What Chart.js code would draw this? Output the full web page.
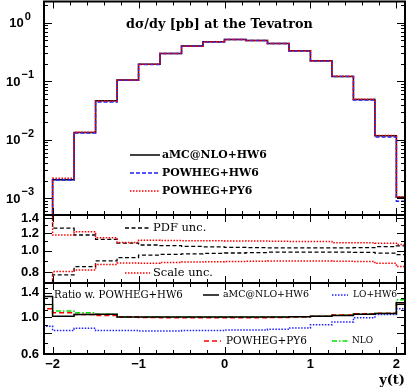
<!DOCTYPE html>
<html>
<head>
<meta charset="utf-8">
<script src="https://cdn.jsdelivr.net/npm/chart.js@4/dist/chart.umd.min.js"></script>
<style>
  html, body { margin: 0; padding: 0; background: #fff; }
  #wrap { position: relative; width: 407px; height: 389px; }
  #wrap canvas { position: absolute; left: 0; top: 0; }
</style>
</head>
<body>
<div id="wrap">
  <canvas id="topChart" width="407" height="389"></canvas>
  <canvas id="midChart" width="407" height="389"></canvas>
  <canvas id="botChart" width="407" height="389"></canvas>
</div>
<script>
// bin edges in y(t), one more edge than values
const binEdges = [-2.25, -2, -1.75, -1.5, -1.25, -1, -0.75, -0.5, -0.25, 0, 0.25, 0.5, 0.75, 1, 1.25, 1.5, 1.75, 2, 2.25];

// dsigma/dy [pb]
const xsecAmcHw6    = [0.0003, 0.00207, 0.0133, 0.0466, 0.105, 0.196, 0.299, 0.398, 0.471, 0.517, 0.497, 0.442, 0.331, 0.223, 0.121, 0.049, 0.0117, 0.00104];
const xsecPowhegHw6 = [0.00025, 0.00205, 0.0131, 0.0442, 0.104, 0.194, 0.297, 0.396, 0.47, 0.516, 0.496, 0.441, 0.330, 0.222, 0.120, 0.0478, 0.0112, 0.00089];
const xsecPowhegPy6 = [0.0003, 0.0022, 0.0135, 0.0462, 0.105, 0.196, 0.298, 0.397, 0.471, 0.516, 0.496, 0.442, 0.331, 0.224, 0.122, 0.0495, 0.0118, 0.00107];

// uncertainty bands (middle panel)
const pdfUp     = [1.6, 1.26, 1.175, 1.124, 1.08, 1.06, 1.053, 1.045, 1.04, 1.035, 1.032, 1.03, 1.03, 1.03, 1.03, 1.032, 1.042, 1.05];
const pdfDown   = [0.6, 0.779, 0.848, 0.9, 0.93, 0.955, 0.963, 0.968, 0.972, 0.976, 0.98, 0.984, 0.984, 0.984, 0.984, 0.982, 0.974, 0.96];
const scaleUp   = [1.6, 1.175, 1.216, 1.143, 1.087, 1.112, 1.11, 1.108, 1.106, 1.105, 1.104, 1.102, 1.1, 1.1, 1.085, 1.085, 1.08, 1.065];
const scaleDown = [0.6, 0.806, 0.82, 0.868, 0.88, 0.878, 0.885, 0.89, 0.893, 0.895, 0.897, 0.898, 0.898, 0.898, 0.897, 0.895, 0.878, 0.85];

// ratios w. POWHEG+HW6 (bottom panel)
const ratioAmc = [1.33, 1.01, 1.035, 1.04, 1.0, 1.0, 1.0, 1.0, 1.0, 1.0, 1.0, 1.0, 1.005, 1.01, 1.02, 1.04, 1.05, 1.22];
const ratioLo  = [0.88, 0.83, 0.855, 0.83, 0.83, 0.825, 0.825, 0.83, 0.83, 0.835, 0.835, 0.845, 0.86, 0.9, 0.935, 0.99, 1.035, 1.12];
const ratioPy6 = [1.12, 1.06, 1.035, 1.02, 1.0, 0.995, 0.99, 0.99, 0.99, 0.99, 0.99, 0.995, 1.0, 1.01, 1.03, 1.045, 1.055, 1.22];
const ratioNlo = [1.19, 1.085, 1.06, 1.04, 1.0, 1.0, 1.0, 1.0, 1.0, 1.0, 1.0, 1.0, 1.005, 1.01, 1.03, 1.045, 1.05, 1.27];

// tick labels
const xTicks = [-2, -1, 0, 1, 2];
const xsecTicks = [1e-3, 1e-2, 1e-1, 1];
const xsecExponents = ['\u22123', '\u22122', '\u22121', '0'];
const uncTicks = [0.8, 1.0, 1.2, 1.4];
const ratioTicks = [0.6, 0.8, 1.0, 1.2, 1.4, 1.6];

Chart.defaults.color = '#000';
Chart.defaults.animation = false;

const sans = '"Liberation Sans", Arial, sans-serif';
const serif = '"DejaVu Serif", serif';
const tickFont = { family: sans, size: 13, weight: 'bold' };

// histogram as a stepped line through the bin edges
function histo(values) {
    return binEdges.map((e, i) => ({ x: e, y: values[Math.min(i, values.length - 1)] }));
}

function histoSet(values, color, dash, width, order) {
    return {
        data: histo(values),
        borderColor: color,
        borderWidth: width || 1.5,
        borderDash: dash || [],
        stepped: 'before',
        pointRadius: 0,
        fill: false,
        order: order || 0
    };
}

// pick the font size so that a reference string gets the width it has in the picture
function fitFont(ctx, t) {
    const w = t.bold ? 'bold ' : '';
    ctx.font = w + '20px ' + serif;
    const size = 20 * t.w / ctx.measureText(t.ref || t.text).width;
    return w + size.toFixed(2) + 'px ' + serif;
}

// inward ticks, frame, legend and labels drawn on top of each panel
const panelDecor = {
    id: 'panelDecor',
    afterDraw(chart, args, opts) {
        const { ctx, chartArea: a, scales } = chart;
        const xs = scales.x, ys = scales.y;
        ctx.save();
        ctx.strokeStyle = '#000';
        ctx.lineWidth = 1;
        ctx.setLineDash([]);

        ctx.beginPath();
        for (let i = -10; i <= 10; i++) {
            const px = Math.round(xs.getPixelForValue(i / 5)) + 0.5;
            const len = i % 5 === 0 ? 7 : 4;
            ctx.moveTo(px, a.bottom); ctx.lineTo(px, a.bottom - len);
            ctx.moveTo(px, a.top); ctx.lineTo(px, a.top + len);
        }
        (opts.yMajor || []).forEach(v => {
            const py = Math.round(ys.getPixelForValue(v)) + 0.5;
            if (py < a.top || py > a.bottom) return;
            ctx.moveTo(a.left, py); ctx.lineTo(a.left + 8, py);
            ctx.moveTo(a.right, py); ctx.lineTo(a.right - 8, py);
        });
        (opts.yMinor || []).forEach(v => {
            const py = Math.round(ys.getPixelForValue(v)) + 0.5;
            if (py < a.top || py > a.bottom) return;
            ctx.moveTo(a.left, py); ctx.lineTo(a.left + 4, py);
            ctx.moveTo(a.right, py); ctx.lineTo(a.right - 4, py);
        });
        ctx.stroke();

        ctx.lineWidth = 2;
        ctx.strokeRect(a.left, a.top, a.right - a.left, a.bottom - a.top);

        (opts.keys || []).forEach(k => {
            ctx.strokeStyle = k.color;
            ctx.lineWidth = k.width || 1.5;
            ctx.setLineDash(k.dash || []);
            ctx.beginPath();
            ctx.moveTo(k.x0, k.y); ctx.lineTo(k.x1, k.y);
            ctx.stroke();
        });
        ctx.setLineDash([]);
        ctx.fillStyle = '#000';
        ctx.textAlign = 'left';
        ctx.textBaseline = 'middle';
        (opts.texts || []).forEach(t => {
            ctx.font = fitFont(ctx, t);
            ctx.fillText(t.text, t.x, t.y);
        });

        // powers of ten on the log axis: "10" with a raised exponent, centred
        if (opts.powers) {
            opts.powers.forEach((p, i) => {
                const py = ys.getPixelForValue(xsecTicks[i]);
                ctx.font = 'bold 11px ' + sans;
                const ew = ctx.measureText(p).width;
                ctx.font = 'bold 13px ' + sans;
                const bw = ctx.measureText('10').width;
                const x0 = 20 - (bw + 1 + ew) / 2;
                ctx.fillText('10', x0, py + 1);
                ctx.font = 'bold 11px ' + sans;
                ctx.fillText(p, x0 + bw + 1, py - 6);
            });
        }
        ctx.restore();
    }
};

function yAxis(type, min, max, ticks, labelFn) {
    return {
        type: type,
        min: min,
        max: max,
        grid: { display: false, drawTicks: false },
        border: { display: false },
        afterBuildTicks: s => { s.ticks = ticks.map(v => ({ value: v })); },
        afterFit: s => { s.width = 44; s.paddingTop = 0; s.paddingBottom = 0; },
        ticks: { font: tickFont, padding: 5, callback: labelFn }
    };
}

function xAxis(show) {
    return {
        type: 'linear',
        min: -2.1,
        max: 2.1,
        display: show,
        grid: { display: false, drawTicks: false },
        border: { display: false },
        afterBuildTicks: s => { s.ticks = xTicks.map(v => ({ value: v })); },
        afterFit: s => { if (show) s.height = 35; s.paddingLeft = 0; s.paddingRight = 0; },
        ticks: {
            font: tickFont,
            padding: 3,
            maxRotation: 0,
            callback: v => (v < 0 ? '\u2212' + Math.abs(v) : String(v))
        },
        title: {
            display: show,
            text: 'y(t)',
            align: 'end',
            font: { family: serif, size: 13, weight: 'bold' },
            padding: { top: 0, bottom: 1 }
        }
    };
}

function makeChart(id, datasets, yOpts, padTop, padBottom, showX, decor) {
    return new Chart(document.getElementById(id), {
        type: 'line',
        data: { datasets: datasets },
        options: {
            responsive: false,
            animation: false,
            layout: { padding: { top: padTop, bottom: padBottom, left: 0, right: 2 } },
            plugins: { legend: { display: false }, tooltip: { enabled: false }, panelDecor: decor },
            scales: { x: xAxis(showX), y: yOpts }
        },
        plugins: [panelDecor]
    });
}

// log minor ticks for the cross-section panel
const xsecMinor = [];
[1e-4, 1e-3, 1e-2, 1e-1, 1].forEach(d => { for (let k = 2; k <= 9; k++) xsecMinor.push(k * d); });

makeChart('topChart', [
    histoSet(xsecPowhegPy6, '#ff0000', [1.5, 1.5], 1.5, 0),
    histoSet(xsecPowhegHw6, '#2020ff', [4, 2], 1.5, 1),
    histoSet(xsecAmcHw6, '#000000', [], 1.5, 2)
], yAxis('logarithmic', 5.2e-4, 2.3, xsecTicks, () => ''), 1.5, 174, false, {
    yMajor: [1e-3, 1e-2, 1e-1, 1],
    yMinor: xsecMinor,
    powers: xsecExponents,
    keys: [
        { x0: 130, x1: 160, y: 155, color: '#000000' },
        { x0: 130, x1: 160, y: 173, color: '#2020ff', dash: [4, 2] },
        { x0: 130, x1: 160, y: 191, color: '#ff0000', dash: [1.5, 1.5] }
    ],
    texts: [
        { text: 'd\u03C3/dy [pb] at the Tevatron', x: 126, y: 25, w: 187, bold: true },
        { text: 'aMC@NLO+HW6', x: 162, y: 155, w: 105, bold: true },
        { text: 'POWHEG+HW6', ref: 'aMC@NLO+HW6', x: 162, y: 173, w: 105, bold: true },
        { text: 'POWHEG+PY6', ref: 'aMC@NLO+HW6', x: 162, y: 191, w: 105, bold: true }
    ]
});

makeChart('midChart', [
    histoSet(scaleUp, '#ff0000', [1.5, 1.5], 1.5, 0),
    histoSet(scaleDown, '#ff0000', [1.5, 1.5], 1.5, 0),
    histoSet(pdfUp, '#000000', [4, 2.5], 1.3, 1),
    histoSet(pdfDown, '#000000', [4, 2.5], 1.3, 1)
], yAxis('logarithmic', 0.717, 1.443, uncTicks, v => v.toFixed(1)), 215, 106, false, {
    yMajor: [0.8, 1.0, 1.2, 1.4],
    yMinor: [0.9, 1.1, 1.3],
    keys: [
        { x0: 125, x1: 150, y: 228, color: '#000000', dash: [4, 2.5], width: 1.3 },
        { x0: 125, x1: 150, y: 273, color: '#ff0000', dash: [1.5, 1.5] }
    ],
    texts: [
        { text: 'PDF unc.', ref: 'Scale unc.', x: 153, y: 228, w: 60 },
        { text: 'Scale unc.', x: 153, y: 273, w: 60 }
    ]
});

makeChart('botChart', [
    histoSet(ratioNlo, '#00e000', [5, 2, 1.5, 2], 1.5, 3),
    histoSet(ratioPy6, '#ff0000', [5, 3], 1.5, 2),
    histoSet(ratioLo, '#2020ff', [1.5, 1.5], 1.5, 1),
    histoSet(ratioAmc, '#000000', [], 1.5, 0)
], yAxis('logarithmic', 0.6, 1.6, ratioTicks, v => v.toFixed(1)), 283, 0, true, {
    yMajor: [0.6, 0.8, 1.0, 1.2, 1.4, 1.6],
    yMinor: [0.7, 0.9, 1.1, 1.3, 1.5],
    keys: [
        { x0: 203, x1: 219, y: 295, color: '#000000' },
        { x0: 332, x1: 348, y: 295, color: '#2020ff', dash: [1.5, 1.5] },
        { x0: 204, x1: 221, y: 341, color: '#ff0000', dash: [5, 3] },
        { x0: 332, x1: 348, y: 341, color: '#00e000', dash: [5, 2, 1.5, 2] }
    ],
    texts: [
        { text: 'Ratio w. POWHEG+HW6', x: 54, y: 295, w: 129 },
        { text: 'aMC@NLO+HW6', x: 223, y: 295, w: 86 },
        { text: 'LO+HW6', x: 353, y: 295, w: 44 },
        { text: 'POWHEG+PY6', x: 226, y: 341, w: 81 },
        { text: 'NLO', x: 352, y: 341, w: 21 }
    ]
});
</script>
</body>
</html>
